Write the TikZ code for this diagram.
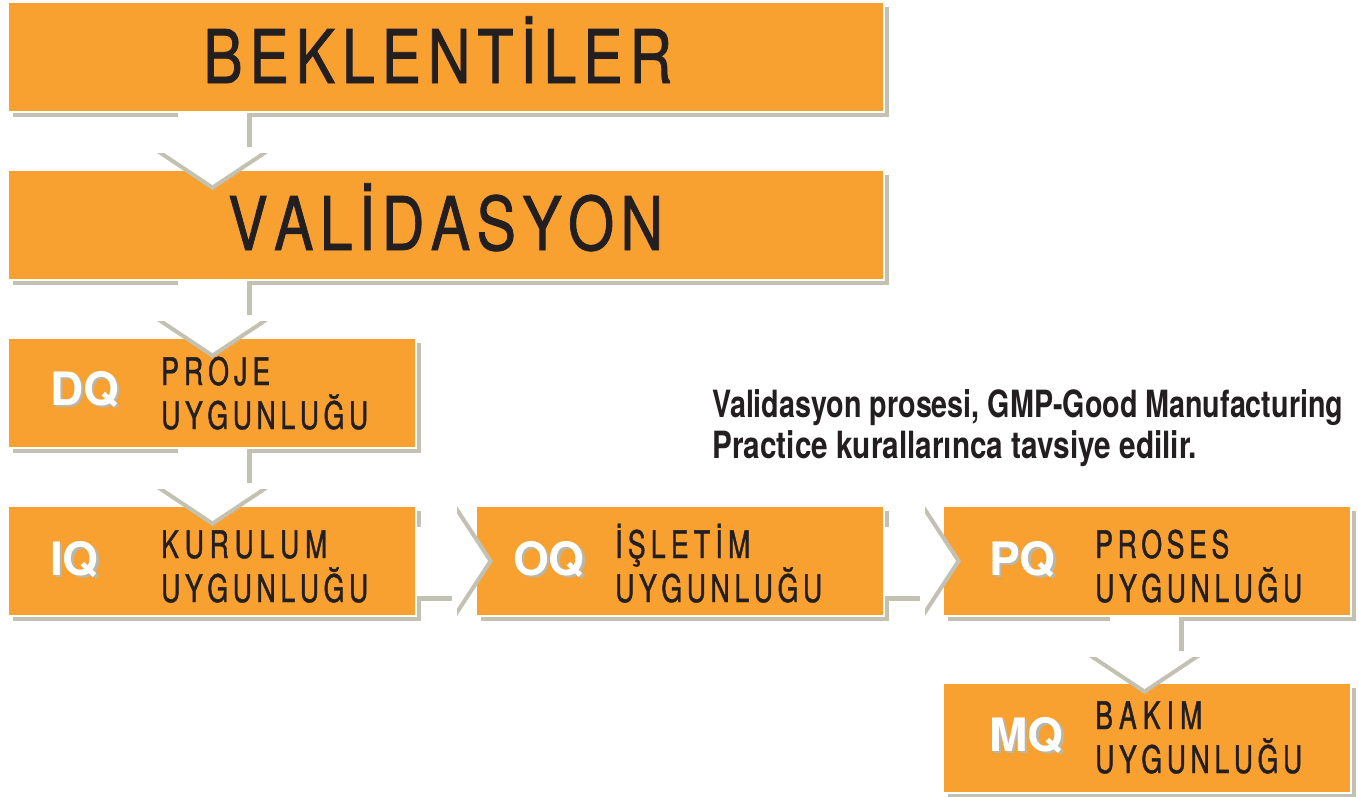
\documentclass[tikz,border=0pt]{standalone}
\usepackage{fontspec}
\usepackage{graphicx}
\setmainfont{TeX Gyre Heros}
\newfontfamily\cnf[FakeStretch=0.8,FakeBold=1.0]{TeX Gyre Heros}
\newfontfamily\cnl[FakeStretch=0.7,FakeBold=1.1]{TeX Gyre Heros}
\usetikzlibrary{calc,shadows}
\definecolor{org}{HTML}{F8A131}
\definecolor{shd}{HTML}{C3C1B1}
\definecolor{ink}{HTML}{231F20}
\definecolor{lshd}{HTML}{B9B7A9}
\newcommand\lsp[2]{\makebox[#1][s]{#2}}
\newcommand\vconn[2]{%
  \coordinate (vt) at ($(#1.south west)+(#2,0)$);
  \fill[shd] ($(vt)+(-55.5,41)$) -- ($(vt)+(55.5,41)$) -- ($(vt)+(0,78)$) -- cycle;
  \fill[white] ($(vt)+(-55.5,36)$) -- ($(vt)+(55.5,36)$) -- ($(vt)+(0,73)$) -- cycle;
  \fill[shd] ($(vt)+(34,1)$) rectangle ($(vt)+(39,35)$);
  \fill[white] ($(vt)+(-34.5,1)$) rectangle ($(vt)+(34,37)$);
}
\newcommand\hconn[1]{%
  \coordinate (ht) at (#1.east);
  \fill[shd] ($(ht)+(41,-55)$) -- ($(ht)+(41,55)$) -- ($(ht)+(77,0)$) -- cycle;
  \fill[white] ($(ht)+(36,-55)$) -- ($(ht)+(36,55)$) -- ($(ht)+(72,0)$) -- cycle;
  \fill[shd] ($(ht)+(1,35)$) rectangle ($(ht)+(36,40)$);
  \fill[white] ($(ht)+(1,-34)$) rectangle ($(ht)+(37,35)$);
}
\tikzset{
  box/.style={fill=org, draw=white, line width=1.5pt, inner sep=0pt, outer sep=0pt,
    drop shadow={shadow xshift=5pt, shadow yshift=-5pt, fill=shd, opacity=1}},
  bigbox/.style={box, minimum width=876pt, minimum height=110pt},
  smallbox/.style={box, minimum width=408pt, minimum height=110pt},
  title/.style={anchor=base west, inner sep=0pt, text=ink, font=\cnf\fontsize{74}{74}\selectfont},
  lbl/.style={anchor=base west, inner sep=0pt, text=ink, font=\cnl\fontsize{38}{38}\selectfont},
  abbr/.style={anchor=base west, inner sep=0pt, text=white, font=\bfseries\fontsize{46}{46}\selectfont},
  abbrsh/.style={abbr, text=lshd},
  note/.style={anchor=base west, inner sep=0pt, text=ink, font=\bfseries\fontsize{37.5}{37.5}\selectfont},
}
\begin{document}
\begin{tikzpicture}[x=1pt,y=-1pt]
\useasboundingbox (0,0) rectangle (1359,796);
% boxes
\node[bigbox] (bek) at (446,57) {};
\node[bigbox] (val) at (446,225) {};
\node[smallbox] (dq) at (212,393) {};
\node[smallbox] (iq) at (212,561) {};
\node[smallbox] (oq) at (680,561) {};
\node[smallbox] (pq) at (1147,561) {};
\node[smallbox] (mq) at (1147,738) {};
% connectors
\vconn{bek}{204.5}
\vconn{val}{204.5}
\vconn{dq}{204.5}
\vconn{pq}{201.5}
\hconn{iq}
\hconn{oq}
% titles
\node[title] (tbek) at (203,83) {\lsp{469pt}{B\hfill E\hfill K\hfill L\hfill E\hfill N\hfill T\hfill İ\hfill L\hfill E\hfill R}};
\node[title] (tval) at (228,250) {\lsp{435pt}{V\hfill A\hfill L\hfill İ\hfill D\hfill A\hfill S\hfill Y\hfill O\hfill N}};
% labels
\node[lbl] (l1a) at (161,385) {\lsp{109pt}{P\hfill R\hfill O\hfill J\hfill E}};
\node[lbl] (l1b) at (161,429) {\lsp{207pt}{U\hfill Y\hfill G\hfill U\hfill N\hfill L\hfill U\hfill Ğ\hfill U}};
\node[lbl] (l2a) at (161,558) {\lsp{166pt}{K\hfill U\hfill R\hfill U\hfill L\hfill U\hfill M}};
\node[lbl] (l2b) at (161,602) {\lsp{207pt}{U\hfill Y\hfill G\hfill U\hfill N\hfill L\hfill U\hfill Ğ\hfill U}};
\node[lbl] (l3a) at (615,558) {\lsp{135pt}{İ\hfill Ş\hfill L\hfill E\hfill T\hfill İ\hfill M}};
\node[lbl] (l3b) at (615,602) {\lsp{207pt}{U\hfill Y\hfill G\hfill U\hfill N\hfill L\hfill U\hfill Ğ\hfill U}};
\node[lbl] (l4a) at (1095,558) {\lsp{134pt}{P\hfill R\hfill O\hfill S\hfill E\hfill S}};
\node[lbl] (l4b) at (1095,602) {\lsp{207pt}{U\hfill Y\hfill G\hfill U\hfill N\hfill L\hfill U\hfill Ğ\hfill U}};
\node[lbl] (l5a) at (1095,729) {\lsp{107pt}{B\hfill A\hfill K\hfill I\hfill M}};
\node[lbl] (l5b) at (1095,773) {\lsp{207pt}{U\hfill Y\hfill G\hfill U\hfill N\hfill L\hfill U\hfill Ğ\hfill U}};
% abbreviations
\node[abbrsh] (a1s) at (52.5,407.5) {DQ};
\node[abbr] (a1) at (50,405) {DQ};
\node[abbrsh] (a2s) at (52.5,577.5) {IQ};
\node[abbr] (a2) at (50,575) {IQ};
\node[abbrsh] (a3s) at (515.5,577.5) {OQ};
\node[abbr] (a3) at (513,575) {OQ};
\node[abbrsh] (a4s) at (991.5,577.5) {PQ};
\node[abbr] (a4) at (989,575) {PQ};
\node[abbrsh] (a5s) at (991.5,753.5) {MQ};
\node[abbr] (a5) at (989,751) {MQ};
% note
\node[note] (n1) at (712,417) {\resizebox{631pt}{\height}{Validasyon prosesi, GMP-Good Manufacturing}};
\node[note] (n2) at (712,458) {\resizebox{485pt}{\height}{Practice kurallarınca tavsiye edilir.}};
\end{tikzpicture}
\end{document}
